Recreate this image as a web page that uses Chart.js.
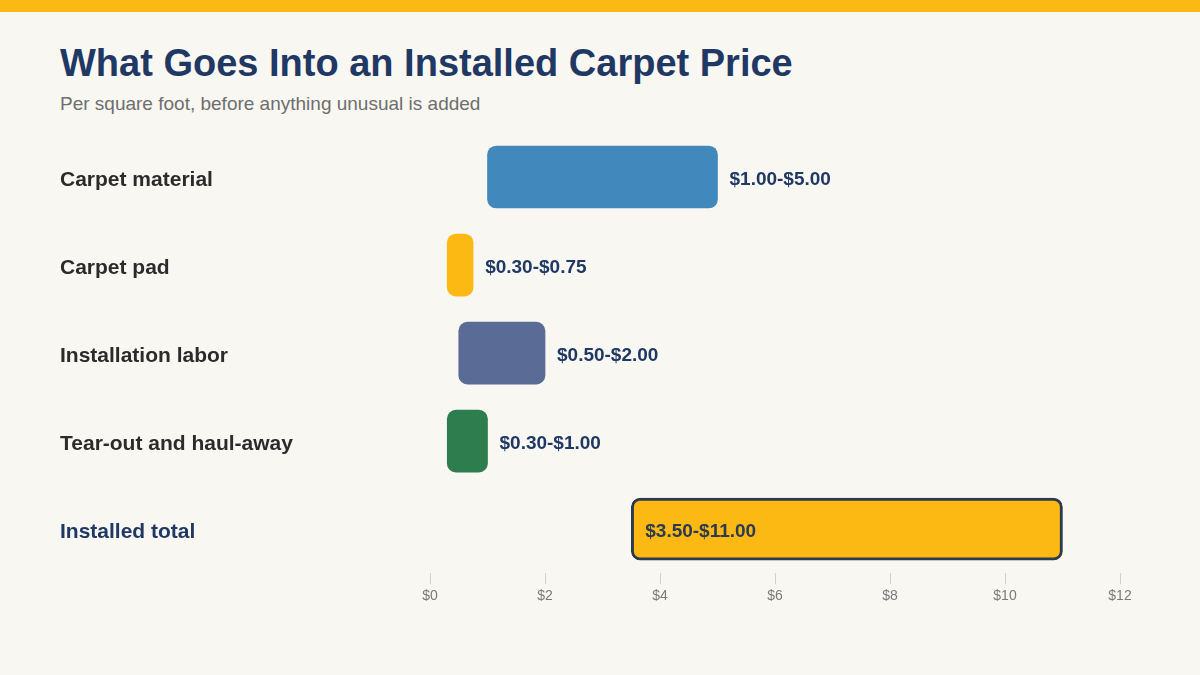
<!DOCTYPE html>
<html>
<head>
<meta charset="utf-8">
<script src="https://cdn.jsdelivr.net/npm/chart.js@4/dist/chart.umd.min.js"></script>
<style>
  html, body { margin: 0; padding: 0; background: #F9F7F2; }
  body { width: 1200px; height: 675px; position: relative; overflow: hidden; font-family: "Liberation Sans", Arial, sans-serif; }
  .stripe { position: absolute; left: 0; top: 0; width: 1200px; height: 12px; background: #FDB913; }
  h1 { position: absolute; left: 60px; top: 42px; margin: 0; font-size: 38px; font-weight: bold; color: #1F3864; }
  .sub { position: absolute; left: 60px; top: 93px; margin: 0; font-size: 19px; color: #6E6E6E; }
  .wrap { position: absolute; left: 0; top: 0; width: 1200px; height: 675px; }
</style>
</head>
<body>
<div class="stripe"></div>
<h1>What Goes Into an Installed Carpet Price</h1>
<p class="sub">Per square foot, before anything unusual is added</p>
<div class="wrap"><canvas id="chart" width="1200" height="675"></canvas></div>
<script>
const categories = ['Carpet material', 'Carpet pad', 'Installation labor', 'Tear-out and haul-away', 'Installed total'];
const lowValues = [1.00, 0.30, 0.50, 0.30, 3.50];
const highValues = [5.00, 0.75, 2.00, 1.00, 11.00];
const rangeLabels = ['$1.00-$5.00', '$0.30-$0.75', '$0.50-$2.00', '$0.30-$1.00', '$3.50-$11.00'];
const xTicks = [0, 2, 4, 6, 8, 10, 12];

const barColors = ['#4189BC', '#FDB913', '#5A6B96', '#2E7D4F', '#FDB913'];
const borderColors = ['#4189BC', '#FDB913', '#5A6B96', '#2E7D4F', '#2B3A50'];
const borderWidths = [0, 0, 0, 0, 3];

document.addEventListener('DOMContentLoaded', () => {
    const ctx = document.getElementById('chart').getContext('2d');

    // category names on the left + value labels at bar ends (inside for the total bar)
    const labelPlugin = {
        id: 'rowLabels',
        afterDatasetsDraw(chart) {
            const c = chart.ctx;
            const meta = chart.getDatasetMeta(0);
            const last = categories.length - 1;
            c.save();
            c.textBaseline = 'middle';

            c.font = 'bold 21px "Liberation Sans", Arial, sans-serif';
            c.textAlign = 'left';
            categories.forEach((name, i) => {
                c.fillStyle = i === last ? '#1F3864' : '#2B2B2B';
                c.fillText(name, 60, chart.scales.y.getPixelForTick(i) + 3);
            });

            c.font = 'bold 19px "Liberation Sans", Arial, sans-serif';
            meta.data.forEach((bar, i) => {
                const left = Math.min(bar.x, bar.base);
                const right = Math.max(bar.x, bar.base);
                if (i === last) {
                    c.fillStyle = '#2B3A50';
                    c.fillText(rangeLabels[i], left + 14, bar.y + 3);
                } else {
                    c.fillStyle = '#1F3864';
                    c.fillText(rangeLabels[i], right + 12, bar.y + 3);
                }
            });
            c.restore();
        }
    };

    new Chart(ctx, {
        type: 'bar',
        data: {
            labels: categories,
            datasets: [{
                data: lowValues.map((v, i) => [v, highValues[i]]),
                backgroundColor: barColors,
                borderColor: borderColors,
                borderWidth: borderWidths,
                borderSkipped: false,
                borderRadius: 9,
                barThickness: 62
            }]
        },
        options: {
            indexAxis: 'y',
            responsive: false,
            animation: false,
            layout: { padding: { left: 60, right: 80, top: 133, bottom: 66 } },
            plugins: {
                legend: { display: false },
                tooltip: { enabled: false }
            },
            scales: {
                x: {
                    min: 0,
                    max: 12,
                    afterBuildTicks: (axis) => { axis.ticks = xTicks.map(v => ({ value: v })); },
                    grid: { drawOnChartArea: false, drawTicks: true, tickLength: 11, color: '#D0D0D0' },
                    border: { display: false },
                    ticks: {
                        padding: 4,
                        color: '#7A7A7A',
                        font: { size: 14, family: '"Liberation Sans", Arial, sans-serif' },
                        callback: (v) => '$' + v
                    }
                },
                y: {
                    afterFit: (axis) => { axis.width = 370; },
                    grid: { display: false },
                    border: { display: false },
                    ticks: { display: false }
                }
            }
        },
        plugins: [labelPlugin]
    });
});
</script>
</body>
</html>
